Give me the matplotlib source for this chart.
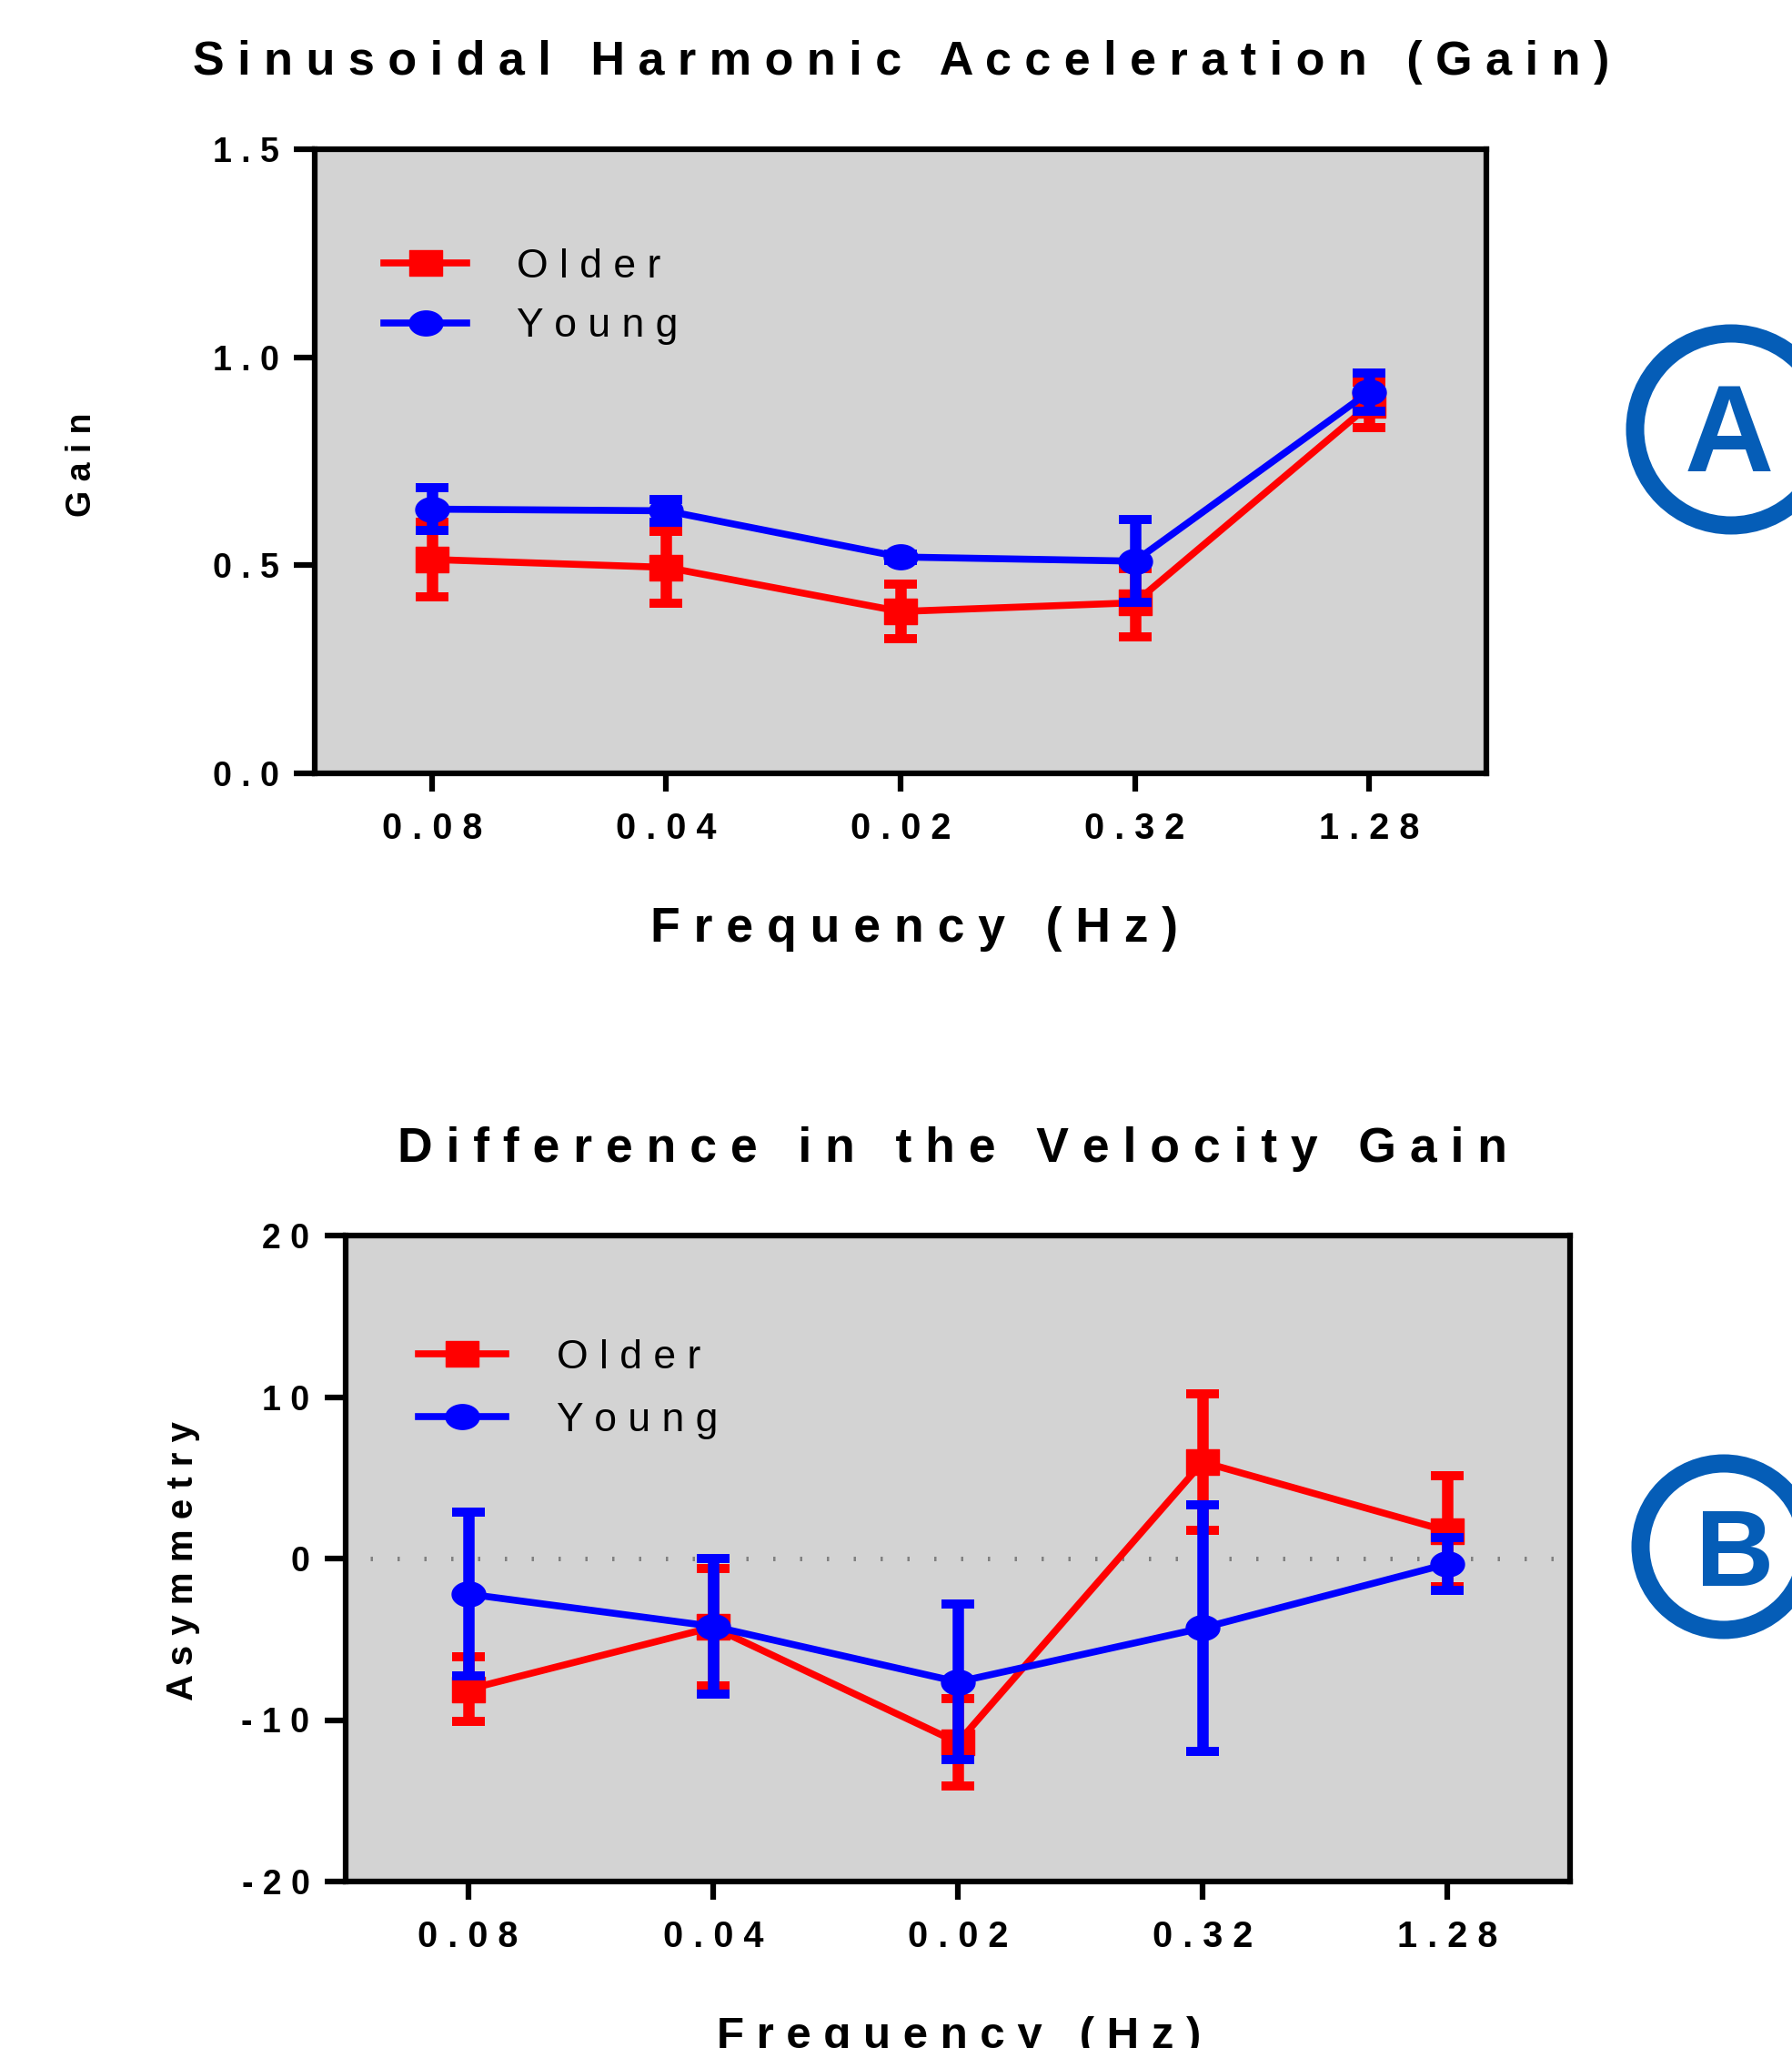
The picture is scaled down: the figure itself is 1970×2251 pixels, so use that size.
import numpy as np
import matplotlib
matplotlib.use("Agg")
import matplotlib.pyplot as plt
from matplotlib.path import Path
from matplotlib.patches import Circle

# ---- data ----
freq_labels = ["0.08", "0.04", "0.02", "0.32", "1.28"]

gain_older = [0.514, 0.495, 0.389, 0.410, 0.885]
gain_older_err = [0.089, 0.086, 0.065, 0.083, 0.055]
gain_young = [0.635, 0.631, 0.520, 0.510, 0.917]
gain_young_err = [0.052, 0.028, 0.008, 0.100, 0.046]

asym_older = [-8.1, -4.25, -11.4, 5.97, 1.70]
asym_older_err = [2.0, 3.65, 2.7, 4.25, 3.42]
asym_young = [-2.2, -4.2, -7.64, -4.3, -0.33]
asym_young_err = [5.08, 4.2, 4.81, 7.63, 1.63]

gain_yticks = [0.0, 0.5, 1.0, 1.5]
gain_ytick_labels = ["0.0", "0.5", "1.0", "1.5"]
asym_yticks = [-20, -10, 0, 10, 20]
asym_ytick_labels = ["-20", "-10", "0", "10", "20"]

W, H = 1970, 2251
RED = "#ff0000"
BLUE = "#0000ff"
BADGE = "#055db7"

plt.rcParams["font.family"] = ["Liberation Sans", "DejaVu Sans"]


def spaced(s):
    # the original uses wide letter tracking
    return " ".join(s)


def fx(px):
    return px / W


def fy(py):
    return 1 - py / H


# slightly wide markers, as in the (horizontally stretched) original
t = np.linspace(0, 2 * np.pi, 73)
ellipse = Path(np.column_stack([1.35 * np.cos(t), np.sin(t)]), closed=True)
rect = Path([(-1.3, -1), (1.3, -1), (1.3, 1), (-1.3, 1), (-1.3, -1)], closed=True)

fig = plt.figure(figsize=(W / 100, H / 100), dpi=100)

ax1 = fig.add_axes([fx(346), fy(850), fx(1634 - 346), (850 - 164) / H])
ax2 = fig.add_axes([fx(380), fy(2068), fx(1726 - 380), (2068 - 1358) / H])

x = np.arange(len(freq_labels))


def draw_panel(ax, older, older_err, young, young_err):
    ax.set_facecolor("#d3d3d3")
    ax.errorbar(x, older, yerr=older_err, fmt="none", ecolor=RED,
                elinewidth=9, capsize=13.3, capthick=7.2, zorder=2)
    ax.plot(x, older, color=RED, lw=5.5, marker=rect, ms=26,
            label=spaced("Older"), zorder=3)
    ax.errorbar(x, young, yerr=young_err, fmt="none", ecolor=BLUE,
                elinewidth=9, capsize=13.3, capthick=7.2, zorder=4)
    ax.plot(x, young, color=BLUE, lw=5.5, marker=ellipse, ms=26.6,
            label=spaced("Young"), zorder=5)
    ax.set_xlim(-0.5, 4.5)
    ax.set_xticks(x, labels=[spaced(l) for l in freq_labels])
    for s in ax.spines.values():
        s.set_linewidth(4.5)
        s.set_color("black")
    ax.tick_params(axis="both", direction="out", width=4.5, color="black")
    ax.tick_params(axis="x", length=14.5, pad=16, labelsize=28.5)
    ax.tick_params(axis="y", length=16.5, pad=12, labelsize=27)


def bold_ticks(ax):
    for lab in ax.get_xticklabels() + ax.get_yticklabels():
        lab.set_fontweight("bold")


# ---- panel A ----
draw_panel(ax1, gain_older, gain_older_err, gain_young, gain_young_err)
ax1.set_ylim(0, 1.5)
ax1.set_yticks(gain_yticks, labels=[spaced(l) for l in gain_ytick_labels])
bold_ticks(ax1)
ax1.legend(loc="upper left", bbox_to_anchor=(fx(422), fy(273)),
           bbox_transform=fig.transFigure, frameon=False, borderpad=0,
           borderaxespad=0, handlelength=2.05, handletextpad=1.24,
           labelspacing=0.55, numpoints=1, prop={"size": 32})

# ---- panel B ----
draw_panel(ax2, asym_older, asym_older_err, asym_young, asym_young_err)
ax2.set_ylim(-20, 20)
ax2.set_yticks(asym_yticks, labels=[spaced(l) for l in asym_ytick_labels])
bold_ticks(ax2)
ax2.axhline(0, xmin=0.02, color="#808080", lw=3.6, ls=(0, (0.5, 5.4)),
            dash_capstyle="butt", zorder=1)
ax2.legend(loc="upper left", bbox_to_anchor=(fx(460), fy(1472)),
           bbox_transform=fig.transFigure, frameon=False, borderpad=0,
           borderaxespad=0, handlelength=2.16, handletextpad=1.26,
           labelspacing=0.62, numpoints=1, prop={"size": 32})

# ---- titles and axis labels ----
fig.text(fx(991), fy(82), spaced("Sinusoidal Harmonic Acceleration (Gain)"),
         ha="center", va="baseline", fontsize=37.5, fontweight="bold")
fig.text(fx(1005), fy(1035), spaced("Frequency (Hz)"),
         ha="center", va="baseline", fontsize=38.5, fontweight="bold")
fig.text(fx(100), fy(511), spaced("Gain"), rotation=90, rotation_mode="anchor",
         ha="center", va="baseline", fontsize=27, fontweight="bold")

fig.text(fx(1047), fy(1277), spaced("Difference in the Velocity Gain"),
         ha="center", va="baseline", fontsize=38.5, fontweight="bold")
fig.text(fx(1054), fy(2251), spaced("Frequency (Hz)"),
         ha="center", va="baseline", fontsize=35.5, fontweight="bold")
fig.text(fx(212), fy(1716), spaced("Asymmetry"), rotation=90,
         rotation_mode="anchor", ha="center", va="baseline",
         fontsize=29, fontweight="bold")

# ---- circled panel letters ----
fig.add_artist(Circle((1903 / 100, (H - 472) / 100), 1.055,
                      transform=fig.dpi_scale_trans, fill=False,
                      lw=14.4, color=BADGE))
fig.text(fx(1901), fy(518), "A", ha="center", va="baseline",
         fontsize=98, fontweight="bold", color=BADGE)
fig.add_artist(Circle((1895 / 100, (H - 1700) / 100), 0.915,
                      transform=fig.dpi_scale_trans, fill=False,
                      lw=14.4, color=BADGE))
fig.text(fx(1907), fy(1743), "B", ha="center", va="baseline",
         fontsize=86, fontweight="bold", color=BADGE)

fig.savefig("out.png", dpi=100)
